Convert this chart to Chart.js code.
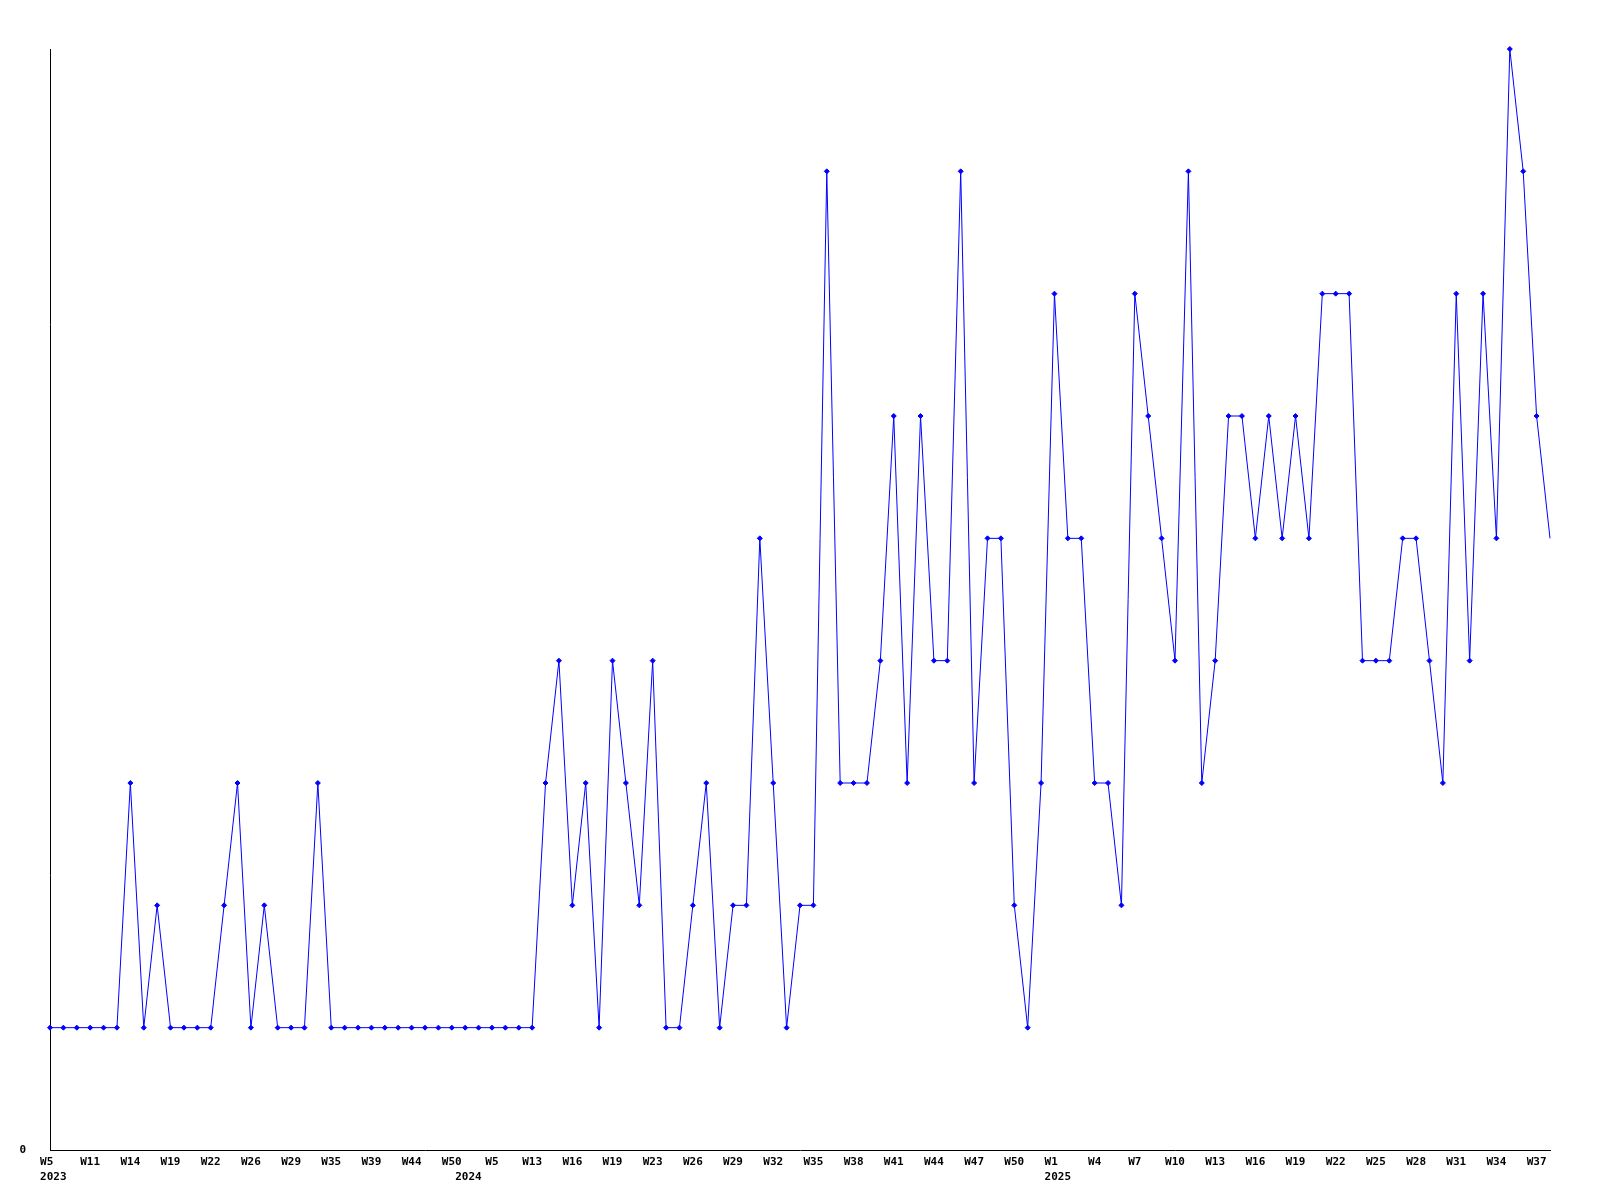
<!DOCTYPE html>
<html>
<head>
<meta charset="utf-8">
<style>
  html, body { margin: 0; padding: 0; background: #fff; }
  #weekChart { display: block; }
</style>
<script src="https://cdn.jsdelivr.net/npm/chart.js@4.4.1/dist/chart.umd.min.js"></script>
</head>
<body>
<canvas id="weekChart" width="1600" height="1200"></canvas>
<script>
// weeks that have a value, per year
const weeks2023 = [5, 7, 9, 11, 12, 13, 14, 16, 18, 19, 20, 21, 22, 24, 25, 26, 27, 28, 29, 31, 33, 35, 36, 37, 39, 41, 42, 44, 46, 48, 50];
const weeks2024 = [1, 3, 5, 8, 11, 13, 14, 15, 16, 17, 18, 19, 20, 22, 23, 24, 25, 26, 27, 28, 29, 30, 31, 32, 33, 34, 35, 36, 37, 38, 39, 40, 41, 42, 43, 44, 45, 46, 47, 48, 49, 50, 51, 52];
const weeks2025 = [1, 2, 3, 4, 5, 6, 7, 8, 9, 10, 11, 12, 13, 14, 15, 16, 17, 18, 19, 20, 21, 22, 23, 24, 25, 26, 27, 28, 29, 30, 31, 32, 33, 34, 35, 36, 37, 38];

const counts2023 = [1, 1, 1, 1, 1, 1, 3, 1, 2, 1, 1, 1, 1, 2, 3, 1, 2, 1, 1, 1, 3, 1, 1, 1, 1, 1, 1, 1, 1, 1, 1];
const counts2024 = [1, 1, 1, 1, 1, 1, 3, 4, 2, 3, 1, 4, 3, 2, 4, 1, 1, 2, 3, 1, 2, 2, 5, 3, 1, 2, 2, 8, 3, 3, 3, 4, 6, 3, 6, 4, 4, 8, 3, 5, 5, 2, 1, 3];
const counts2025 = [7, 5, 5, 3, 3, 2, 7, 6, 5, 4, 8, 3, 4, 6, 6, 5, 6, 5, 6, 5, 7, 7, 7, 4, 4, 4, 5, 5, 4, 3, 7, 4, 7, 5, 9, 8, 6, 5];

const yMax = 9;
const labelEvery = 3;

let Weeks = [];
let Years = [];
let Values = [];
[[2023, weeks2023, counts2023], [2024, weeks2024, counts2024], [2025, weeks2025, counts2025]].forEach((row) => {
  row[1].forEach((w, i) => {
    Weeks.push(w);
    Years.push(row[0]);
    Values.push(row[2][i]);
  });
});
const Labels = Weeks.map((w, i) => Years[i] + "-W" + w);

// week label every 3rd point, year under the first point of each year
function tickText(i) {
  const yearStart = i === 0 || Years[i] !== Years[i - 1];
  if (i % labelEvery === 0) {
    const wk = "W" + Weeks[i];
    if (yearStart) {
      return [" " + wk.padEnd(4, " "), " " + Years[i]];
    }
    return wk;
  }
  if (yearStart) {
    return ["", " " + Years[i]];
  }
  return "";
}

const monoFont = { family: "'DejaVu Sans Mono', monospace", size: 11, weight: "bold", lineHeight: 1.36 };
const lastIndex = Values.length - 1;

const ctx = document.getElementById("weekChart").getContext("2d");
new Chart(ctx, {
  type: "line",
  data: {
    labels: Labels,
    datasets: [
      {
        data: Values,
        borderColor: "#0000ff",
        backgroundColor: "#0000ff",
        borderWidth: 1,
        tension: 0,
        fill: false,
        pointStyle: "rectRot",
        pointRadius: (c) => (c.dataIndex === lastIndex ? 0 : 2.5),
        pointBorderWidth: 1,
        pointBackgroundColor: "#0000ff",
        pointBorderColor: "#0000ff",
        clip: false,
      },
    ],
  },
  options: {
    responsive: false,
    animation: false,
    layout: { padding: { top: 49, right: 50, left: 0, bottom: 0 } },
    plugins: {
      legend: { display: false },
      tooltip: { enabled: false },
    },
    scales: {
      x: {
        offset: false,
        grid: { display: false, drawTicks: false, tickLength: 0 },
        border: { display: true, color: "#000", width: 1 },
        ticks: {
          autoSkip: false,
          maxRotation: 0,
          minRotation: 0,
          padding: 5,
          color: "#000",
          font: monoFont,
          callback: (value, index) => tickText(index),
        },
        afterFit: (scale) => { scale.height = 50; },
      },
      y: {
        min: 0,
        max: yMax,
        grid: { display: false, drawTicks: false, tickLength: 0 },
        border: { display: true, color: "#000", width: 1 },
        afterBuildTicks: (scale) => { scale.ticks = [{ value: 0 }]; },
        ticks: {
          padding: 24,
          color: "#000",
          font: monoFont,
          callback: (v) => String(v),
        },
        afterFit: (scale) => { scale.width = 50; },
      },
    },
  },
});
</script>
</body>
</html>
